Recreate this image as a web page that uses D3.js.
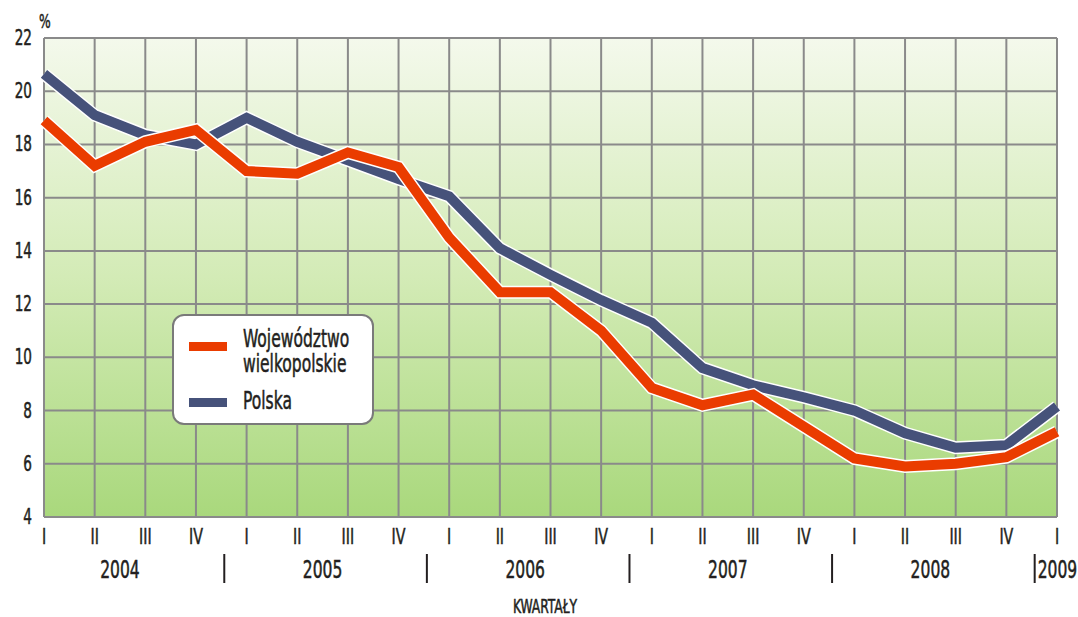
<!DOCTYPE html>
<html>
<meta charset="utf-8">
<head>
<title>stopa bezrobocia</title>
<script src="https://d3js.org/d3.v7.min.js"></script>
<style>
  body { margin: 0; background: #fff; }
  text { font-family: "DejaVu Sans Condensed", "DejaVu Sans", sans-serif; font-stretch: condensed; fill: #231f20; stroke: #231f20; stroke-width: 0.5px; }
</style>
</head>
<body>
<div id="chart"></div>
<script>

// data
var quarters = ["I","II","III","IV","I","II","III","IV","I","II","III","IV","I","II","III","IV","I","II","III","IV","I"];
var years = ["2004","2005","2006","2007","2008","2009"];
var wielkopolska = [18.9,17.2,18.1,18.55,17.0,16.9,17.7,17.15,14.5,12.45,12.45,11.0,8.85,8.2,8.6,7.4,6.2,5.9,6.0,6.25,7.2];
var polska = [20.65,19.1,18.35,18.0,19.0,18.1,17.4,16.7,16.05,14.1,13.1,12.15,11.3,9.6,8.95,8.5,8.0,7.15,6.6,6.7,8.15];
var yTicks = [4,6,8,10,12,14,16,18,20,22];

var width = 1078, height = 617;
var margin = {top: 38, right: 21, bottom: 100, left: 44};
var squeeze = 0.72; // narrow the font like the original condensed face

var svg = d3.select("#chart").append("svg")
	.attr("width", width)
	.attr("height", height);

function place(x, y){
	return "translate(" + x + "," + y + ") scale(" + squeeze + ",1)";
}

var xScale = d3.scalePoint()
	.domain(d3.range(quarters.length))
	.range([margin.left, width - margin.right]);

var yScale = d3.scaleLinear()
	.domain([4, 22])
	.range([height - margin.bottom, margin.top]);

var defs = svg.append("defs");
var grad = defs.append("linearGradient")
	.attr("id", "bg")
	.attr("x1", 0).attr("y1", 0).attr("x2", 0).attr("y2", 1);
grad.append("stop").attr("offset", "0%").attr("stop-color", "#f4f9ec");
grad.append("stop").attr("offset", "50%").attr("stop-color", "#d3ebb6");
grad.append("stop").attr("offset", "100%").attr("stop-color", "#a9d87c");

svg.append("rect")
	.attr("x", margin.left)
	.attr("y", margin.top)
	.attr("width", width - margin.right - margin.left)
	.attr("height", height - margin.bottom - margin.top)
	.attr("fill", "url(#bg)");

// grid
var grid = svg.append("g").attr("stroke", "#8a8a8a").attr("stroke-width", 2);

grid.selectAll(".hgrid")
	.data(yTicks)
	.enter()
	.append("line")
	.attr("x1", margin.left)
	.attr("x2", width - margin.right)
	.attr("y1", function(d){ return yScale(d); })
	.attr("y2", function(d){ return yScale(d); });

grid.selectAll(".vgrid")
	.data(d3.range(quarters.length))
	.enter()
	.append("line")
	.attr("x1", function(d){ return xScale(d); })
	.attr("x2", function(d){ return xScale(d); })
	.attr("y1", margin.top)
	.attr("y2", height - margin.bottom);

// y labels
svg.append("g")
	.selectAll("text")
	.data(yTicks)
	.enter()
	.append("text")
	.attr("transform", function(d){ return place(32, yScale(d) + 7); })
	.attr("text-anchor", "end")
	.attr("font-size", 21)
	.text(function(d){ return d; });

svg.append("text")
	.attr("transform", place(39, 28))
	.attr("font-size", 19)
	.text("%");

// lines
var line = d3.line()
	.x(function(d, i){ return xScale(i); })
	.y(function(d){ return yScale(d); });

var lines = svg.append("g");

[[polska, "#46527a"], [wielkopolska, "#ea3c00"]].forEach(function(s){
	lines.append("path")
		.attr("d", line(s[0]))
		.attr("fill", "none")
		.attr("stroke", "#ffffff")
		.attr("stroke-width", 13)
		.attr("stroke-linejoin", "miter");
	lines.append("path")
		.attr("d", line(s[0]))
		.attr("fill", "none")
		.attr("stroke", s[1])
		.attr("stroke-width", 10)
		.attr("stroke-linejoin", "miter");
});

// x axis labels
svg.append("g")
	.selectAll("text")
	.data(quarters)
	.enter()
	.append("text")
	.attr("transform", function(d, i){ return place(xScale(i), 544); })
	.attr("text-anchor", "middle")
	.attr("font-size", 22)
	.text(function(d){ return d; });

var step = xScale.step();

svg.append("g")
	.selectAll("text")
	.data(years)
	.enter()
	.append("text")
	.attr("transform", function(d, i){
		if (i == years.length - 1) return place(xScale(i * 4) - step / 2 + 6, 578);
		return place((xScale(i * 4) + xScale(i * 4 + 3)) / 2, 578);
	})
	.attr("text-anchor", function(d, i){ return i == years.length - 1 ? "start" : "middle"; })
	.attr("font-size", 24)
	.text(function(d){ return d; });

svg.append("g")
	.selectAll("line")
	.data(d3.range(1, years.length))
	.enter()
	.append("line")
	.attr("x1", function(d){ return xScale(d * 4) - step / 2 + 3; })
	.attr("x2", function(d){ return xScale(d * 4) - step / 2 + 3; })
	.attr("y1", 554)
	.attr("y2", 583)
	.attr("stroke", "#231f20")
	.attr("stroke-width", 2);

svg.append("text")
	.attr("transform", place(545, 613))
	.attr("text-anchor", "middle")
	.attr("font-size", 19)
	.text("KWARTAŁY");

// legend
var legend = svg.append("g");
legend.append("rect")
	.attr("x", 173)
	.attr("y", 315)
	.attr("width", 200)
	.attr("height", 109)
	.attr("rx", 11)
	.attr("fill", "#ffffff")
	.attr("stroke", "#7a7a7a")
	.attr("stroke-width", 2);

legend.append("rect")
	.attr("x", 189).attr("y", 342).attr("width", 38).attr("height", 9)
	.attr("fill", "#ea3c00");
legend.append("rect")
	.attr("x", 189).attr("y", 398).attr("width", 38).attr("height", 9)
	.attr("fill", "#46527a");

legend.append("text").attr("transform", place(243, 347)).attr("font-size", 24).text("Województwo");
legend.append("text").attr("transform", place(243, 372)).attr("font-size", 24).text("wielkopolskie");
legend.append("text").attr("transform", place(243, 409)).attr("font-size", 24).text("Polska");

</script>
</body>
</html>
